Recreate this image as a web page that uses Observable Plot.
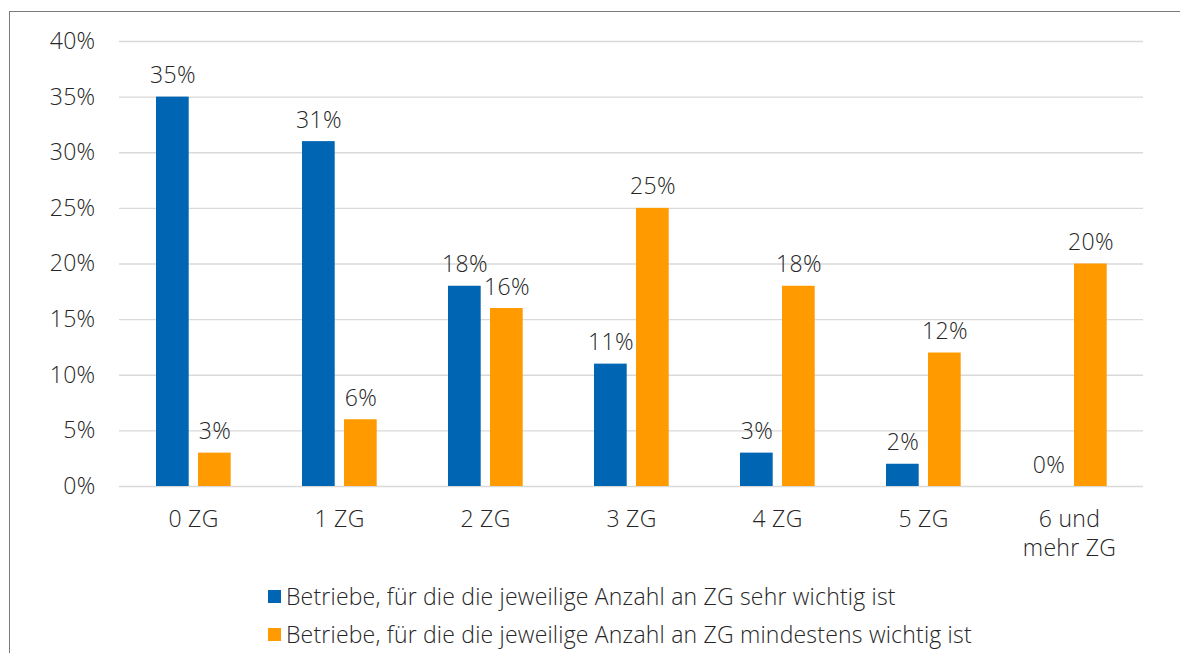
<!DOCTYPE html>
<html>
<head>
<meta charset="utf-8">
<script src="https://cdn.jsdelivr.net/npm/d3@7"></script>
<script src="https://cdn.jsdelivr.net/npm/@observablehq/plot@0.6"></script>
<style>
  html, body { margin: 0; padding: 0; background: #fff; overflow: hidden; width: 1180px; height: 653px; }
  #frame { position: absolute; left: 9px; top: 11px; width: 1200px; height: 700px; border: 1.5px solid #7a7a7a; box-sizing: border-box; }
  #chart { position: absolute; left: 0; top: 0; }
  #legend { position: absolute; left: 268px; top: 577px; font-family: "Open Sans", sans-serif; font-weight: 350; font-size: 23px; letter-spacing: 0.2px; color: #262626; }
  .item { display: flex; align-items: center; height: 38px; }
  .sw { width: 13px; height: 13px; margin-right: 5px; }
</style>
</head>
<body>
<div id="frame"></div>
<div id="chart"></div>
<div id="legend"></div>
<script>
const categories = ["0 ZG", "1 ZG", "2 ZG", "3 ZG", "4 ZG", "5 ZG", "6 und\nmehr ZG"];
const seriesNames = [
  "Betriebe, für die die jeweilige Anzahl an ZG sehr wichtig ist",
  "Betriebe, für die die jeweilige Anzahl an ZG mindestens wichtig ist"
];
const sehrWichtig = [35, 31, 18, 11, 3, 2, 0];
const mindestensWichtig = [3, 6, 16, 25, 18, 12, 20];
const yTicks = [0, 5, 10, 15, 20, 25, 30, 35, 40];
const colors = ["#0066b3", "#ff9b00"];

const blue = categories.map((c, i) => ({cat: c, value: sehrWichtig[i]}));
const orange = categories.map((c, i) => ({cat: c, value: mindestensWichtig[i]}));

const W = 1180, H = 576;
const chart = Plot.plot({
  width: W,
  height: H,
  marginLeft: 119,
  marginRight: 37,
  marginTop: 41,
  marginBottom: H - 486,
  style: {fontFamily: "'Open Sans', sans-serif", fontWeight: 350, fontSize: "23px", letterSpacing: "0.3px", color: "#262626", background: "transparent"},
  x: {domain: categories, padding: 0},
  y: {domain: [0, 40]},
  marks: [
    Plot.ruleY(yTicks, {stroke: "#d9d9d9", strokeWidth: 1.3}),
    Plot.axisY({ticks: yTicks, tickSize: 0, tickPadding: 24, tickFormat: d => d + "%", label: null, fill: "#262626"}),
    Plot.axisX({tickSize: 0, tickPadding: 20, label: null, lineHeight: 1.27, fill: "#262626"}),
    Plot.barY(blue, {x: "cat", y: "value", fill: colors[0], insetLeft: 36, insetRight: 77.3}),
    Plot.barY(orange, {x: "cat", y: "value", fill: colors[1], insetLeft: 78, insetRight: 35.3}),
    Plot.text(blue, {x: "cat", y: "value", text: d => d.value + "%", dx: -20.6, dy: -14, lineAnchor: "bottom", fill: "#262626"}),
    Plot.text(orange, {x: "cat", y: "value", text: d => d.value + "%", dx: 21.4, dy: -14, lineAnchor: "bottom", fill: "#262626"})
  ]
});
document.getElementById("chart").appendChild(chart);

const legend = document.getElementById("legend");
seriesNames.forEach((name, i) => {
  const item = document.createElement("div");
  item.className = "item";
  const sw = document.createElement("span");
  sw.className = "sw";
  sw.style.background = colors[i];
  const t = document.createElement("span");
  t.textContent = name;
  item.appendChild(sw);
  item.appendChild(t);
  legend.appendChild(item);
});
</script>
</body>
</html>
